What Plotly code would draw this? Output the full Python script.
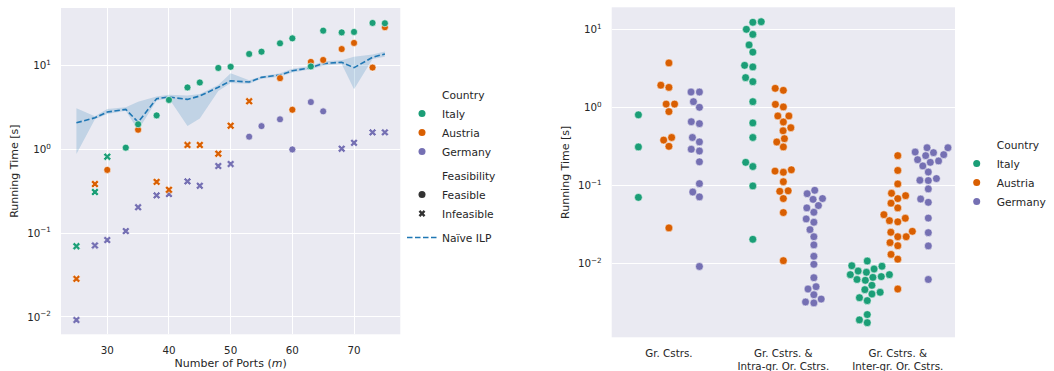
import numpy as np
import plotly.graph_objects as go

W, H = 1054, 371

# ---------------- Left panel data: running time vs number of ports ----------------
italy_feas_ports = [33, 35, 38, 40, 43, 45, 48, 50, 53, 55, 58, 60, 63, 65, 68, 70, 73, 75]
italy_feas_time = [1.05, 2.0, 2.55, 3.9, 5.5, 6.3, 9.4, 9.7, 13.8, 14.7, 18.5, 21.2, 9.8, 26.2, 25.0, 25.3, 32.4, 32.1]
italy_infeas_ports = [25, 28, 30]
italy_infeas_time = [0.07, 0.31, 0.82]

austria_feas_ports = [30, 35, 58, 60, 63, 65, 68, 70, 73, 75]
austria_feas_time = [0.57, 1.72, 7.1, 2.98, 11.1, 11.7, 15.8, 18.7, 9.5, 28.8]
austria_infeas_ports = [25, 28, 38, 40, 43, 45, 48, 50, 53]
austria_infeas_time = [0.0285, 0.386, 0.41, 0.33, 1.13, 1.13, 0.89, 1.92, 3.76]

germany_feas_ports = [53, 55, 58, 60, 63, 65]
germany_feas_time = [1.42, 1.9, 2.29, 1.0, 3.68, 2.85]
germany_infeas_ports = [25, 28, 30, 33, 35, 38, 40, 43, 45, 48, 50, 68, 70, 73, 75]
germany_infeas_time = [0.0092, 0.0714, 0.0828, 0.106, 0.204, 0.283, 0.293, 0.416, 0.368, 0.634, 0.67,
                       1.02, 1.2, 1.6, 1.6]

ilp_ports = [25, 28, 30, 33, 35, 38, 40, 43, 45, 48, 50, 53, 55, 58, 60, 63, 65, 68, 70, 73, 75]
ilp_time = [2.08, 2.39, 2.8, 3.01, 2.12, 4.04, 4.23, 3.96, 4.35, 5.52, 6.62, 6.38, 7.26, 7.74, 8.7,
            9.47, 10.6, 11.0, 9.47, 12.6, 13.8]
ilp_low = [0.88, 2.3, 2.65, 2.9, 1.7, 3.85, 4.05, 1.9, 2.35, 5.0, 6.2, 6.1, 7.0, 7.4, 8.3,
           9.1, 10.0, 10.5, 5.25, 12.0, 12.8]
ilp_high = [3.1, 2.5, 3.05, 3.2, 3.7, 4.3, 4.5, 4.4, 4.6, 5.9, 8.1, 6.7, 7.5, 8.1, 9.2,
            9.9, 11.3, 11.6, 12.8, 13.6, 14.8]

# ---------------- Right panel data: running time per constraint setting ----------------
cat_labels = ["Gr. Cstrs.", "Gr. Cstrs. &<br>Intra-gr. Or. Cstrs.", "Gr. Cstrs. &<br>Inter-gr. Or. Cstrs."]
countries = ["Italy", "Austria", "Germany"]

gr_italy = [0.80, 0.31, 0.070]
gr_austria = [3.7, 1.92, 1.8, 1.1, 1.1, 0.88, 0.41, 0.38, 0.316, 0.0284]
gr_germany = [1.57, 1.57, 1.18, 1.0, 0.653, 0.617, 0.41, 0.36, 0.29, 0.275, 0.20, 0.105, 0.082, 0.071, 0.0091]

intra_italy = [12.5, 12.3, 10.0, 8.6, 6.3, 5.1, 3.45, 3.29, 2.4, 2.13, 1.18, 0.63, 0.41, 0.197, 0.174,
               0.098, 0.0203]
intra_austria = [1.75, 1.65, 1.09, 1.01, 0.774, 0.774, 0.648, 0.547, 0.50, 0.396, 0.359, 0.31, 0.158,
                 0.152, 0.147, 0.111, 0.085, 0.0837, 0.0676, 0.0447, 0.0108]
intra_germany = [0.0863, 0.078, 0.0676, 0.066, 0.055, 0.0513, 0.0451, 0.037, 0.0336, 0.027, 0.0219,
                 0.0172, 0.0123, 0.0097, 0.00653, 0.00501, 0.00468, 0.00395, 0.00348, 0.00319, 0.0031]

inter_italy = [0.0107, 0.0093, 0.00916, 0.00845, 0.00796, 0.00767, 0.00715, 0.00715, 0.00675, 0.0066,
               0.0062, 0.00605, 0.00522, 0.00459, 0.00425, 0.00404, 0.00362, 0.00332, 0.0022, 0.00188,
               0.00173]
inter_austria = [0.24, 0.155, 0.104, 0.079, 0.0736, 0.0675, 0.059, 0.0513, 0.042, 0.0378, 0.0352, 0.034,
                 0.0257, 0.025, 0.0219, 0.0219, 0.0184, 0.0168, 0.013, 0.0113, 0.00468]
inter_germany = [0.303, 0.303, 0.267, 0.262, 0.247, 0.24, 0.213, 0.205, 0.197, 0.177, 0.148, 0.122,
                 0.116, 0.115, 0.0898, 0.0667, 0.0605, 0.038, 0.0247, 0.0167, 0.0062]

log_tickvals = [0.01, 0.1, 1, 10]
log_ticktext = ["10<sup>\u22122</sup>", "10<sup>\u22121</sup>", "10<sup>0</sup>", "10<sup>1</sup>"]

# ---------------- styling / layout constants ----------------
COL = {"Italy": "#1b9e77", "Austria": "#d95f02", "Germany": "#7570b3"}
ILP_COL = "#1f77b4"
BG = "#EAEAF2"
TXT = "#262626"
FONT = "DejaVu Sans"

XL = [61 / W, 400.3 / W]
YL = [1 - 334.3 / H, 1 - 8 / H]
XR = [611.7 / W, 955 / W]
YR = [1 - 337.3 / H, 1 - 7.3 / H]
YL_RANGE = [-2.207, 1.689]
YR_RANGE = [-2.949, 1.282]

fig = go.Figure()

# ---- left panel: Naive ILP band + line ----
fig.add_trace(go.Scatter(x=ilp_ports, y=ilp_low, mode="lines", line=dict(width=0, color=ILP_COL),
                         showlegend=False, hoverinfo="skip", xaxis="x", yaxis="y"))
fig.add_trace(go.Scatter(x=ilp_ports, y=ilp_high, mode="lines", line=dict(width=0, color=ILP_COL),
                         fill="tonexty", fillcolor="rgba(31,119,180,0.2)",
                         showlegend=False, hoverinfo="skip", xaxis="x", yaxis="y"))
fig.add_trace(go.Scatter(x=ilp_ports, y=ilp_time, mode="lines",
                         line=dict(color=ILP_COL, width=1.6, dash="5.5px,2.5px"),
                         showlegend=False, xaxis="x", yaxis="y"))

# ---- left panel: scatter points ----
left_sets = [
    ("Germany", germany_feas_ports, germany_feas_time, germany_infeas_ports, germany_infeas_time),
    ("Austria", austria_feas_ports, austria_feas_time, austria_infeas_ports, austria_infeas_time),
    ("Italy", italy_feas_ports, italy_feas_time, italy_infeas_ports, italy_infeas_time),
]
for name, fx, fy, ix, iy in left_sets:
    fig.add_trace(go.Scatter(x=ix, y=iy, mode="markers", name=name, showlegend=False,
                             marker=dict(symbol="x", size=7, color=COL[name],
                                         line=dict(color="white", width=0.6)),
                             xaxis="x", yaxis="y"))
    fig.add_trace(go.Scatter(x=fx, y=fy, mode="markers", name=name, showlegend=False,
                             marker=dict(symbol="circle", size=7, color=COL[name],
                                         line=dict(color="white", width=0.6)),
                             xaxis="x", yaxis="y"))


# ---- right panel: swarm layout (seaborn-like beeswarm in pixel space) ----
def swarm_offsets(values, r, px_per_decade):
    y = np.log10(np.asarray(values, float)) * px_per_decade
    order = np.argsort(y, kind="stable")
    placed = []
    for yi in y[order]:
        neighbors = []
        for xj, yj in reversed(placed):
            if yi - yj < 2 * r:
                neighbors.append((xj, yj))
            else:
                break
        if not neighbors:
            placed.append((0.0, yi))
            continue
        cands = [0.0]
        left_first = True
        for xj, yj in neighbors:
            dy = yi - yj
            dx = np.sqrt(max(4 * r * r - dy * dy, 0.0)) * 1.05
            cands += [xj - dx, xj + dx] if left_first else [xj + dx, xj - dx]
            left_first = not left_first
        cands = sorted(cands, key=abs)
        for c in cands:
            if all((c - xj) ** 2 + (yi - yj) ** 2 >= (2 * r) ** 2 - 1e-9 for xj, yj in neighbors):
                placed.append((c, yi))
                break
    offs = np.empty(len(y))
    offs[order] = [p[0] for p in placed]
    return offs


px_per_unit = (XR[1] - XR[0]) * W / 3.0
px_per_decade = (YR[1] - YR[0]) * H / (YR_RANGE[1] - YR_RANGE[0])
R_PX = 4.0
hue_width = 0.8 / 3
hue_offset = {"Italy": -hue_width, "Austria": 0.0, "Germany": hue_width}

right_sets = {
    "Italy": [gr_italy, intra_italy, inter_italy],
    "Austria": [gr_austria, intra_austria, inter_austria],
    "Germany": [gr_germany, intra_germany, inter_germany],
}
for name in countries:
    xs, ys = [], []
    for ci, vals in enumerate(right_sets[name]):
        offs = swarm_offsets(vals, R_PX, px_per_decade)
        xs += list(ci + hue_offset[name] + offs / px_per_unit)
        ys += list(vals)
    fig.add_trace(go.Scatter(x=xs, y=ys, mode="markers", name=name, showlegend=False,
                             marker=dict(symbol="circle", size=7.8, color=COL[name],
                                         line=dict(color="white", width=0.5)),
                             xaxis="x2", yaxis="y2"))


# ---- legend proxies ----
def proxy(name, group, legend, marker=None, line=None, mode="markers"):
    kw = dict(x=[None], y=[None], mode=mode, name=name, legendgroup=group, legend=legend,
              showlegend=True, hoverinfo="skip")
    if marker is not None:
        kw["marker"] = marker
    if line is not None:
        kw["line"] = line
    xa, ya = ("x", "y") if legend == "legend" else ("x2", "y2")
    fig.add_trace(go.Scatter(xaxis=xa, yaxis=ya, **kw))


blank = dict(color="rgba(0,0,0,0)", size=1)
proxy("Country", "country", "legend", marker=blank)
for c in countries:
    proxy(c, "country", "legend", marker=dict(symbol="circle", size=7, color=COL[c]))
proxy("Feasibility", "feas", "legend", marker=blank)
proxy("Feasible", "feas", "legend", marker=dict(symbol="circle", size=7, color="#333333"))
proxy("Infeasible", "feas", "legend", marker=dict(symbol="x", size=6, color="#333333"))
proxy("Na\u00efve ILP", "ilp", "legend", mode="lines", line=dict(color=ILP_COL, width=1.6, dash="5.5px,2.5px"))

proxy("Country", "country2", "legend2", marker=blank)
for c in countries:
    proxy(c, "country2", "legend2", marker=dict(symbol="circle", size=7, color=COL[c]))

axis_common = dict(showgrid=True, gridcolor="white", gridwidth=1, zeroline=False, showline=False,
                   ticks="outside", tickcolor="rgba(0,0,0,0)", automargin=False,
                   tickfont=dict(size=10.3, color=TXT, family=FONT))

fig.update_layout(
    width=W, height=H, margin=dict(l=0, r=0, t=0, b=0, autoexpand=False),
    paper_bgcolor="white", plot_bgcolor=BG,
    font=dict(family=FONT, color=TXT, size=10.3),
    xaxis=dict(domain=XL, anchor="y", range=[22.5, 77.5], tickvals=[30, 40, 50, 60, 70], ticklen=6,
               title=dict(text="Number of Ports (<i>m</i>)", font=dict(size=11), standoff=4),
               **axis_common),
    yaxis=dict(domain=YL, anchor="x", type="log", range=YL_RANGE, tickvals=log_tickvals,
               ticktext=log_ticktext, ticklen=7,
               title=dict(text="Running Time [s]", font=dict(size=11), standoff=6),
               **axis_common),
    xaxis2=dict(domain=XR, anchor="y2", range=[-0.5, 2.5], tickvals=[0, 1, 2], ticktext=cat_labels,
                ticklen=6, **{**axis_common, "showgrid": False}),
    yaxis2=dict(domain=YR, anchor="x2", type="log", range=YR_RANGE, tickvals=log_tickvals,
                ticktext=log_ticktext, ticklen=7,
                title=dict(text="Running Time [s]", font=dict(size=11), standoff=6),
                **axis_common),
    legend=dict(x=402 / W, y=1 - 80 / H, xanchor="left", yanchor="top", bgcolor="rgba(0,0,0,0)",
                font=dict(size=10.7, color=TXT, family=FONT), traceorder="grouped",
                tracegroupgap=5, itemwidth=30),
    legend2=dict(x=956.7 / W, y=1 - 130 / H, xanchor="left", yanchor="top", bgcolor="rgba(0,0,0,0)",
                 font=dict(size=10.7, color=TXT, family=FONT), traceorder="grouped",
                 tracegroupgap=6, itemwidth=30),
    showlegend=True,
)

fig.write_html("out.html", config={"displayModeBar": False},
               post_script="document.body.style.margin='0px';document.body.style.overflow='hidden';")
